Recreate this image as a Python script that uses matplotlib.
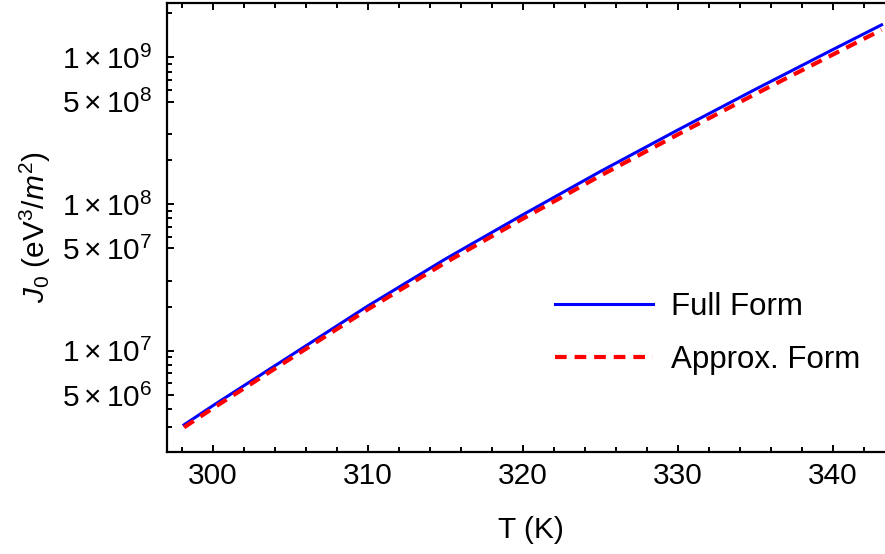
import numpy as np
import matplotlib
matplotlib.use("Agg")
import matplotlib.pyplot as plt
from matplotlib.ticker import FixedLocator, FixedFormatter, MultipleLocator

plt.rcParams['font.family'] = ['Liberation Sans', 'DejaVu Sans']
plt.rcParams['mathtext.fontset'] = 'custom'
plt.rcParams['mathtext.rm'] = 'Liberation Sans'
plt.rcParams['mathtext.it'] = 'Liberation Sans:italic'
plt.rcParams['mathtext.bf'] = 'Liberation Sans:bold'

# temperature (K) and J0 values
T = [298.15, 300, 305, 310, 315, 320, 325, 330, 335, 340, 343.15]
J_full = [3.126e6, 4.217e6, 9.226e6, 2.018e7, 4.217e7, 8.453e7,
          1.667e8, 3.199e8, 6.053e8, 1.130e9, 1.667e9]
J_approx = [3.006e6, 4.046e6, 8.810e6, 1.914e7, 3.981e7, 7.943e7,
            1.560e8, 2.979e8, 5.623e8, 1.045e9, 1.542e9]

y_major = [5e6, 1e7, 5e7, 1e8, 5e8, 1e9]
y_labels = [r'$5\times10^{6}$', r'$1\times10^{7}$', r'$5\times10^{7}$',
            r'$1\times10^{8}$', r'$5\times10^{8}$', r'$1\times10^{9}$']
y_minor = [3e6, 4e6, 6e6, 7e6, 8e6, 9e6, 2e7, 3e7, 6e7, 7e7, 8e7, 9e7,
           2e8, 3e8, 6e8, 7e8, 8e8, 9e8, 2e9]

fs = 21.5

fig = plt.figure(figsize=(8.85, 5.54), dpi=100)
ax = fig.add_axes([0.1887, 0.1841, 0.8232, 0.8105])

ax.plot(T, J_full, color='#0000ff', linewidth=2.2, label='Full Form', zorder=3)
ax.plot(T, J_approx, color='#ff0000', linewidth=3.0, linestyle=(0, (2.8, 1.9)),
        label='Approx. Form', zorder=4)

ax.set_yscale('log')
ax.set_xlim(297.05, 344.05)
ax.set_ylim(2.04e6, 2.35e9)

ax.xaxis.set_major_locator(MultipleLocator(10))
ax.xaxis.set_minor_locator(MultipleLocator(2))
ax.yaxis.set_major_locator(FixedLocator(y_major))
ax.yaxis.set_major_formatter(FixedFormatter(y_labels))
ax.yaxis.set_minor_locator(FixedLocator(y_minor))
ax.yaxis.set_minor_formatter(FixedFormatter([''] * len(y_minor)))

ax.tick_params(which='both', direction='in', top=True, right=True,
               labelsize=fs, width=1.4)
ax.tick_params(which='major', length=5.2)
ax.tick_params(axis='x', which='major', pad=7)
ax.tick_params(axis='y', which='major', pad=11)
ax.tick_params(which='minor', length=3.3)

for s in ax.spines.values():
    s.set_linewidth(1.6)

ax.set_xlabel('T (K)', fontsize=fs, labelpad=19)
ax.set_ylabel(r'$J_0$ (eV$^3$/$m^2$)', fontsize=fs, labelpad=6)

ax.legend(loc='center left', bbox_to_anchor=(0.627, 0.398),
          bbox_transform=fig.transFigure, frameon=False, fontsize=22.5,
          handlelength=3.15, handletextpad=0.55, labelspacing=0.75,
          borderpad=0, borderaxespad=0)

fig.savefig('out.png', dpi=100)
